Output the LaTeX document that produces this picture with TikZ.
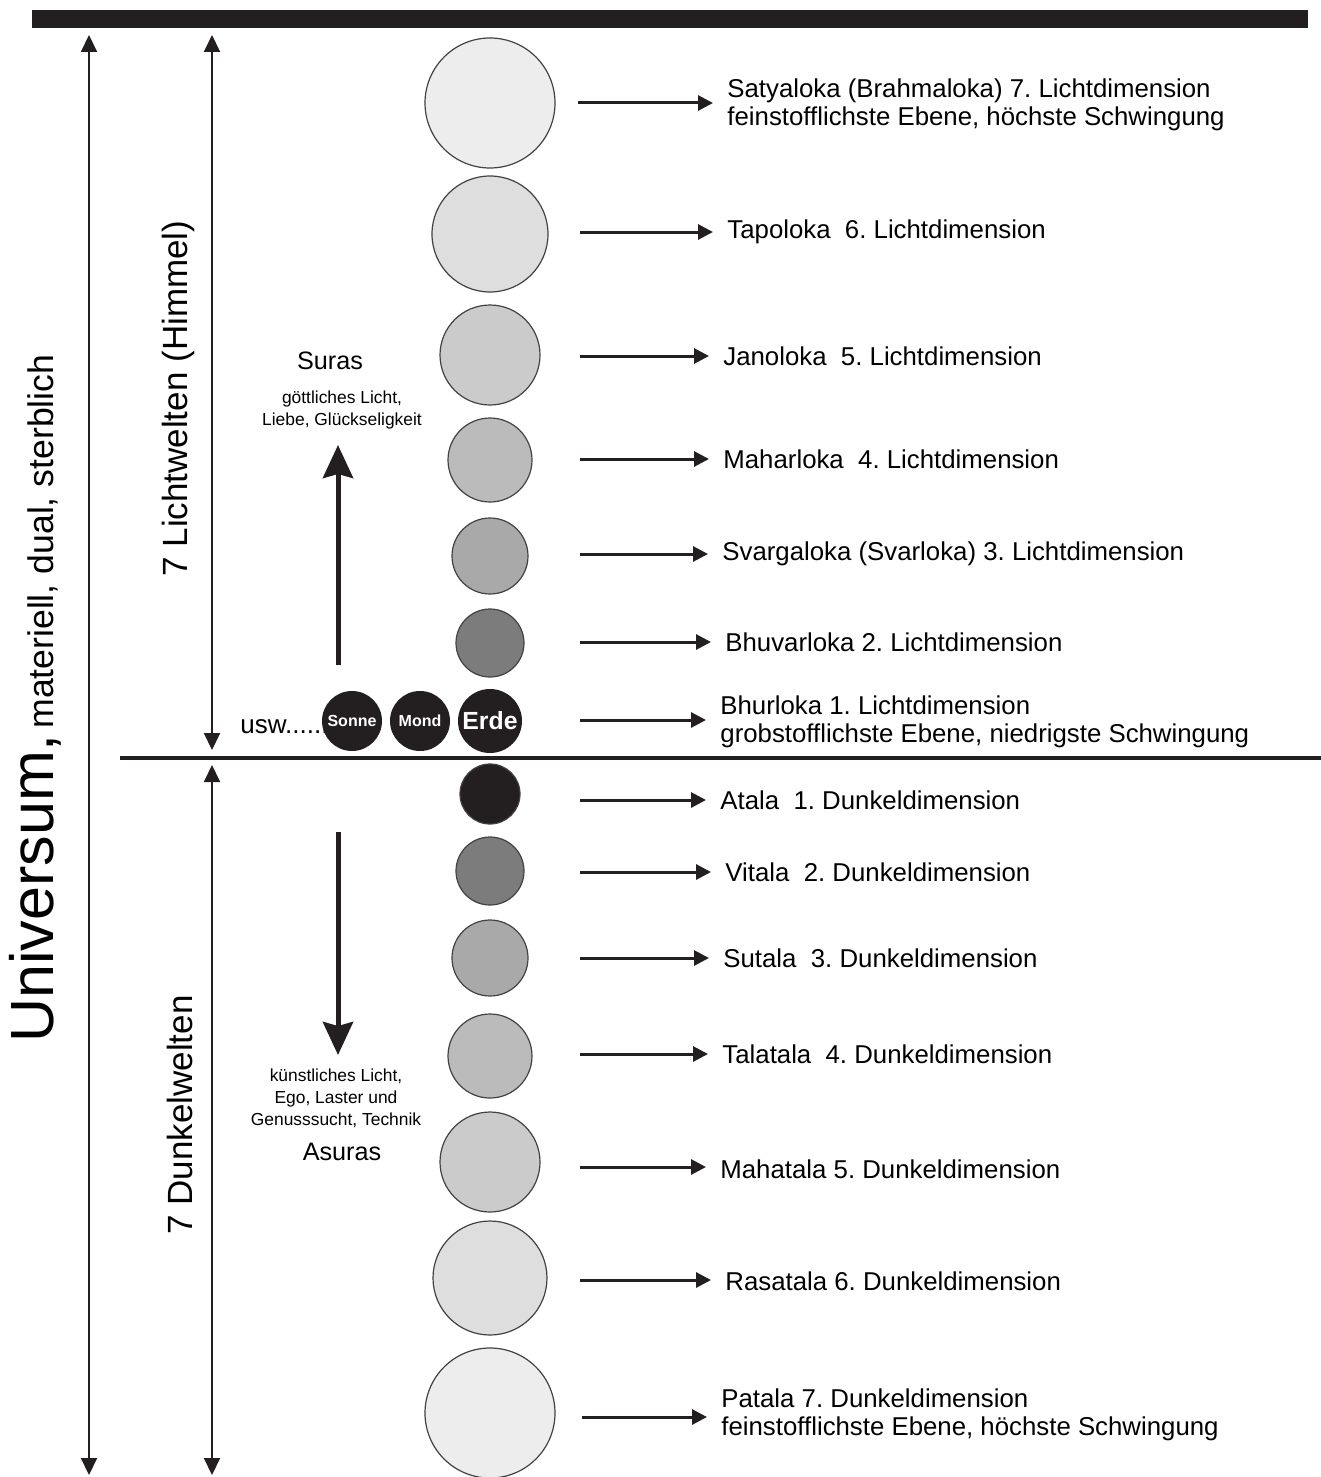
\documentclass[tikz,border=0pt]{standalone}
\usepackage{fontspec}
\setmainfont{Liberation Sans}
\usetikzlibrary{arrows.meta}

\definecolor{ink}{HTML}{231F20}
\definecolor{lvlA}{HTML}{EDEDED}
\definecolor{lvlB}{HTML}{DEDEDE}
\definecolor{lvlC}{HTML}{CBCBCB}
\definecolor{lvlD}{HTML}{BBBBBB}
\definecolor{lvlE}{HTML}{A9A9A9}
\definecolor{lvlF}{HTML}{7C7C7C}

\begin{document}
\frenchspacing
\begin{tikzpicture}[x=0.5pt, y=-0.5pt,
    world/.style={circle, draw=ink!85, line width=0.6pt, inner sep=0pt},
    star/.style={circle, fill=ink, inner sep=0pt, text=white, font=\bfseries\fontsize{8}{8}\selectfont},
    dimlabel/.style={anchor=west, inner xsep=7pt, inner ysep=0pt, align=left, font=\fontsize{12.9}{14}\selectfont},
    labarrow/.style={draw=ink, line width=1.5pt, -{Triangle[length=7.5pt, width=7.5pt]}},
    spanarrow/.style={draw=ink, line width=1pt, {Triangle[length=8.5pt, width=8pt]}-{Triangle[length=8.5pt, width=8pt]}},
    bigarrow/.style={draw=ink, line width=2.5pt, -{Stealth[length=16.5pt, width=15pt, inset=2pt]}},
    sidetext/.style={rotate=90, anchor=base west, inner sep=0pt}]
    \useasboundingbox (0,0) rectangle (1321,1477);

    % Balken oben und Trennlinie
    \fill[ink] (32,10) rectangle (1308,28);
    \draw[ink, line width=2pt] (120,758) -- (1321,758);

    % Pfeile links
    \coordinate (uTop) at (89,35);
    \coordinate (uBot) at (89,1475);
    \coordinate (lTop) at (212,35);
    \coordinate (lBot) at (212,750);
    \coordinate (dTop) at (212,765);
    \coordinate (dBot) at (212,1475);
    \draw[spanarrow] (uTop) -- (uBot);
    \draw[spanarrow] (lTop) -- (lBot);
    \draw[spanarrow] (dTop) -- (dBot);

    \node[sidetext] (univ) at (54,1043) {{\fontsize{30.5}{31}\selectfont Universum,} \fontsize{17.8}{18}\selectfont materiell, dual, sterblich};
    \node[sidetext, font=\fontsize{17.5}{18}\selectfont] (licht) at (187,577) {7 Lichtwelten (Himmel)};
    \node[sidetext, font=\fontsize{17.5}{18}\selectfont] (dunkel) at (192,1235) {7 Dunkelwelten};

    % Suras / Asuras
    \node[font=\fontsize{12.6}{13}\selectfont] (suras) at (330,361) {Suras};
    \node[align=center, font=\fontsize{8.7}{11}\selectfont] (suraText) at (342,410) {göttliches Licht,\\Liebe, Glückseligkeit};
    \coordinate (upFrom) at (338,665);
    \coordinate (upTo) at (338,445);
    \draw[bigarrow] (upFrom) -- (upTo);

    \coordinate (downFrom) at (338,832);
    \coordinate (downTo) at (338,1055);
    \draw[bigarrow] (downFrom) -- (downTo);
    \node[align=center, font=\fontsize{8.7}{11}\selectfont] (asuraText) at (336,1098) {künstliches Licht,\\Ego, Laster und\\Genusssucht, Technik};
    \node[font=\fontsize{12.6}{13}\selectfont] (asuras) at (342,1152) {Asuras};

    % Lichtwelten
    \node[world, fill=lvlA, minimum size=65pt] (c7) at (490,103) {};
    \node[world, fill=lvlB, minimum size=58pt] (c6) at (490,234) {};
    \node[world, fill=lvlC, minimum size=50pt] (c5) at (490,355) {};
    \node[world, fill=lvlD, minimum size=42pt] (c4) at (490,460) {};
    \node[world, fill=lvlE, minimum size=38pt] (c3) at (490,556) {};
    \node[world, fill=lvlF, minimum size=34pt] (c2) at (490,643) {};

    \node[anchor=base west, inner sep=0pt, font=\fontsize{13}{13}\selectfont] (usw) at (240,733) {usw......};
    \node[star, minimum size=30pt] (sonne) at (352,721) {Sonne};
    \node[star, minimum size=30pt] (mond) at (420,721) {Mond};
    \node[star, minimum size=32pt, font=\bfseries\fontsize{12.4}{12}\selectfont] (erde) at (490,721) {Erde};

    % Dunkelwelten
    \node[world, fill=ink, minimum size=30pt] (d1) at (490,794) {};
    \node[world, fill=lvlF, minimum size=34pt] (d2) at (490,871) {};
    \node[world, fill=lvlE, minimum size=38pt] (d3) at (490,958) {};
    \node[world, fill=lvlD, minimum size=42pt] (d4) at (490,1056) {};
    \node[world, fill=lvlC, minimum size=50pt] (d5) at (490,1162) {};
    \node[world, fill=lvlB, minimum size=57pt] (d6) at (490,1278) {};
    \node[world, fill=lvlA, minimum size=65pt] (d7) at (490,1413) {};

    % Beschriftungen
    \node[dimlabel] (l7) at (713,105) {Satyaloka (Brahmaloka) 7. Lichtdimension\\feinstofflichste Ebene, höchste Schwingung};
    \node[dimlabel] (l6) at (713,232) {Tapoloka\ \ 6. Lichtdimension};
    \node[dimlabel] (l5) at (709,356) {Janoloka\ \ 5. Lichtdimension};
    \node[dimlabel] (l4) at (709,459) {Maharloka\ \ 4. Lichtdimension};
    \node[dimlabel] (l3) at (708,554) {Svargaloka (Svarloka) 3. Lichtdimension};
    \node[dimlabel] (l2) at (711,642) {Bhuvarloka 2. Lichtdimension};
    \node[dimlabel] (l1) at (706,722) {Bhurloka 1. Lichtdimension\\grobstofflichste Ebene, niedrigste Schwingung};

    \node[dimlabel] (m1) at (706,800) {Atala\ \ 1. Dunkeldimension};
    \node[dimlabel] (m2) at (711,872) {Vitala\ \ 2. Dunkeldimension};
    \node[dimlabel] (m3) at (709,958) {Sutala\ \ 3. Dunkeldimension};
    \node[dimlabel] (m4) at (708,1054) {Talatala\ \ 4. Dunkeldimension};
    \node[dimlabel] (m5) at (706,1169) {Mahatala 5. Dunkeldimension};
    \node[dimlabel] (m6) at (711,1281) {Rasatala 6. Dunkeldimension};
    \node[dimlabel] (m7) at (707,1415) {Patala 7. Dunkeldimension\\feinstofflichste Ebene, höchste Schwingung};

    % Pfeile zu den Beschriftungen
    \coordinate (s7) at (578,103);
    \coordinate (s6) at (580,232);
    \coordinate (s5) at (580,356);
    \coordinate (s4) at (580,459);
    \coordinate (s3) at (580,554);
    \coordinate (s2) at (580,642);
    \coordinate (s1) at (580,720);
    \draw[labarrow] (s7) -- (s7 -| l7.west);
    \draw[labarrow] (s6) -- (s6 -| l6.west);
    \draw[labarrow] (s5) -- (s5 -| l5.west);
    \draw[labarrow] (s4) -- (s4 -| l4.west);
    \draw[labarrow] (s3) -- (s3 -| l3.west);
    \draw[labarrow] (s2) -- (s2 -| l2.west);
    \draw[labarrow] (s1) -- (s1 -| l1.west);

    \coordinate (t1) at (580,800);
    \coordinate (t2) at (580,872);
    \coordinate (t3) at (580,958);
    \coordinate (t4) at (580,1054);
    \coordinate (t5) at (580,1167);
    \coordinate (t6) at (580,1280);
    \coordinate (t7) at (582,1417);
    \draw[labarrow] (t1) -- (t1 -| m1.west);
    \draw[labarrow] (t2) -- (t2 -| m2.west);
    \draw[labarrow] (t3) -- (t3 -| m3.west);
    \draw[labarrow] (t4) -- (t4 -| m4.west);
    \draw[labarrow] (t5) -- (t5 -| m5.west);
    \draw[labarrow] (t6) -- (t6 -| m6.west);
    \draw[labarrow] (t7) -- (t7 -| m7.west);
\end{tikzpicture}
\end{document}
